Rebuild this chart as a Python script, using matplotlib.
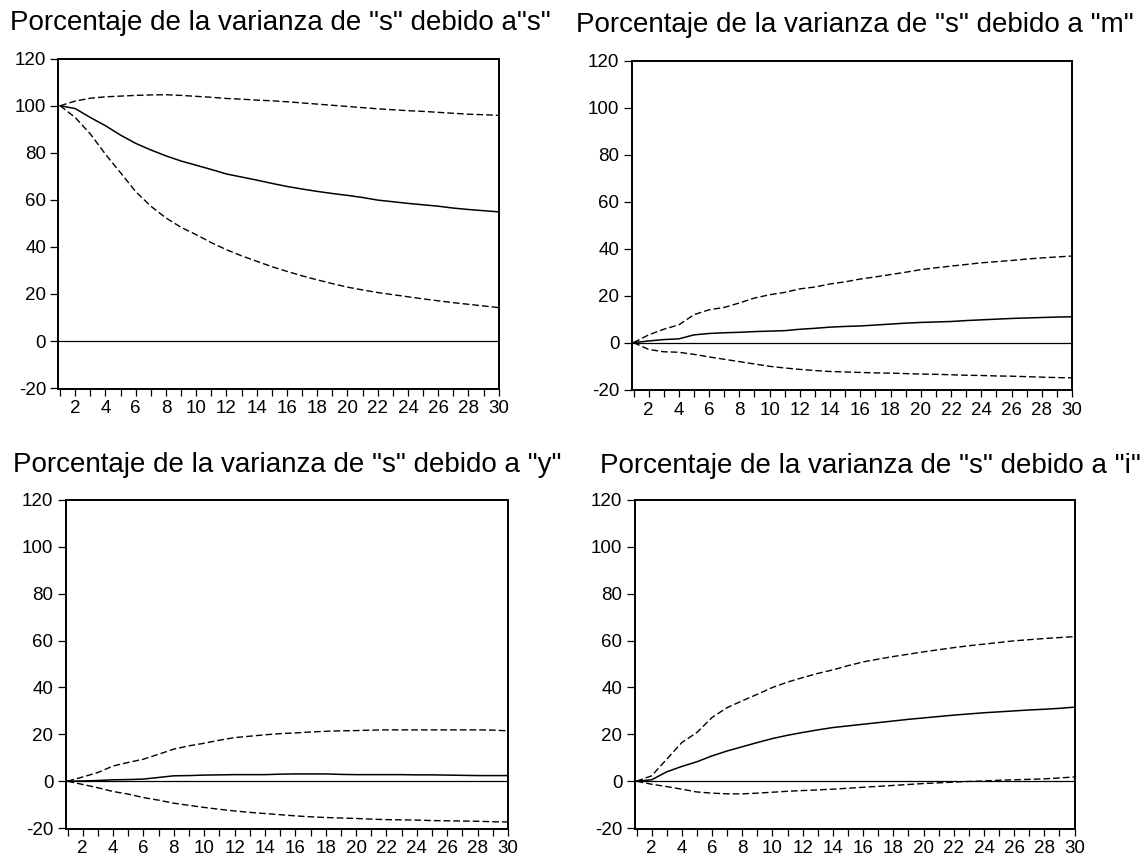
import matplotlib
matplotlib.use("Agg")
import matplotlib.pyplot as plt
import numpy as np

plt.rcParams['font.family'] = ['Liberation Sans', 'DejaVu Sans']

periods = list(range(1, 31))

titles = [
    'Porcentaje de la varianza de "s" debido a"s"',
    'Porcentaje de la varianza de "s" debido a "m"',
    'Porcentaje de la varianza de "s" debido a "y"',
    'Porcentaje de la varianza de "s" debido a "i"',
]

s_mid = [100, 98.8, 95, 91.5, 87.5, 84, 81.2, 78.7, 76.5, 74.7, 72.9, 71, 69.7, 68.4, 67,
         65.7, 64.6, 63.6, 62.7, 61.9, 61, 59.9, 59.2, 58.5, 57.9, 57.3, 56.5, 55.9, 55.4, 54.9]
s_up = [100, 102, 103.2, 103.8, 104.1, 104.4, 104.6, 104.7, 104.4, 104, 103.6, 103.1, 102.8, 102.4, 102.1,
        101.7, 101.2, 100.7, 100.2, 99.7, 99.2, 98.7, 98.3, 97.9, 97.6, 97.2, 96.8, 96.4, 96.2, 95.9]
s_lo = [100, 95, 88, 79.4, 71.5, 63.5, 57.3, 52.3, 48.3, 45.2, 41.8, 38.8, 36.2, 33.9, 31.6,
        29.6, 27.7, 26, 24.4, 22.9, 21.7, 20.6, 19.7, 18.8, 17.9, 17.1, 16.3, 15.6, 14.9, 14.2]

m_mid = [0, 0.7, 1.3, 1.6, 3.3, 3.9, 4.2, 4.4, 4.7, 4.9, 5.1, 5.7, 6.1, 6.6, 6.9,
         7.1, 7.5, 7.9, 8.3, 8.6, 8.8, 9, 9.4, 9.7, 10, 10.3, 10.5, 10.7, 10.9, 11]
m_up = [0, 3.3, 5.7, 7.6, 11.9, 14, 15, 16.9, 19, 20.4, 21.4, 22.9, 23.7, 25, 25.9,
        27.1, 28, 29, 30, 31.1, 31.9, 32.6, 33.3, 34, 34.5, 35, 35.6, 36.1, 36.5, 36.9]
m_lo = [0, -2.9, -3.9, -4.1, -5, -6.1, -7.1, -8.1, -9.1, -10.1, -10.8, -11.4, -11.9, -12.3, -12.5,
        -12.7, -12.9, -13, -13.2, -13.4, -13.5, -13.7, -13.9, -14, -14.2, -14.3, -14.5, -14.7, -14.9, -15]

y_mid = [0, 0.1, 0.3, 0.6, 0.7, 0.9, 1.6, 2.3, 2.4, 2.6, 2.7, 2.8, 2.8, 2.8, 3.0,
         3.1, 3.1, 3.1, 2.9, 2.8, 2.8, 2.8, 2.8, 2.7, 2.7, 2.6, 2.5, 2.4, 2.4, 2.4]
y_up = [0, 1.8, 3.7, 6.5, 8, 9.4, 11.5, 13.7, 15.1, 16.2, 17.5, 18.6, 19.2, 19.8, 20.3,
        20.6, 21, 21.3, 21.5, 21.6, 21.8, 21.9, 21.9, 21.9, 21.9, 21.9, 21.9, 21.9, 21.8, 21.5]
y_lo = [0, -1.4, -2.8, -4.4, -5.5, -7, -8.1, -9.4, -10.3, -11.2, -12, -12.7, -13.3, -13.8, -14.3,
        -14.8, -15.2, -15.5, -15.7, -15.9, -16.2, -16.4, -16.5, -16.6, -16.8, -16.9, -17, -17.1, -17.3, -17.4]

i_mid = [0, 0.6, 4, 6.3, 8.3, 10.8, 12.9, 14.7, 16.5, 18.2, 19.6, 20.8, 21.9, 22.9, 23.6,
         24.3, 25, 25.7, 26.4, 27, 27.6, 28.2, 28.7, 29.2, 29.6, 30, 30.4, 30.7, 31.1, 31.6]
i_up = [0, 2.3, 9.4, 16.5, 20.8, 27.2, 31.4, 34.3, 37.1, 40, 42.3, 44.2, 46, 47.5, 49.3,
        50.9, 52.1, 53.2, 54.2, 55.2, 56.1, 57, 57.8, 58.5, 59.2, 59.9, 60.4, 60.9, 61.3, 61.7]
i_lo = [0, -1.3, -2.3, -3.4, -4.6, -5.1, -5.4, -5.4, -5.1, -4.7, -4.3, -4, -3.7, -3.4, -3,
        -2.6, -2.2, -1.8, -1.4, -1, -0.7, -0.4, -0.1, 0.1, 0.4, 0.6, 0.8, 1, 1.4, 1.8]

y_ticks = [-20, 0, 20, 40, 60, 80, 100, 120]

panels = [(s_mid, s_up, s_lo), (m_mid, m_up, m_lo), (y_mid, y_up, y_lo), (i_mid, i_up, i_lo)]

W, H = 1144, 858
fig = plt.figure(figsize=(W / 100, H / 100), dpi=100)

# axes boxes in pixels: left, right, top, bottom
boxes = [(58.3, 498.7, 58.7, 389), (631.7, 1072, 61, 390.5),
         (65.7, 508, 500, 829), (634.7, 1074.6, 500, 829)]
# title positions: left x, baseline y (pixels)
title_pos = [(10, 29.5), (576, 32), (13, 472), (600, 473)]

for k, ((mid, up, lo), (l, r, t, b)) in enumerate(zip(panels, boxes)):
    ax = fig.add_axes([l / W, 1 - b / H, (r - l) / W, (b - t) / H])
    ax.axhline(0, color='black', lw=0.9, zorder=1)
    ax.plot(periods, mid, color='black', lw=1.1, solid_joinstyle='round', zorder=3)
    ax.plot(periods, up, color='black', lw=1.0, dashes=(4.8, 2.2), zorder=3)
    ax.plot(periods, lo, color='black', lw=1.0, dashes=(4.8, 2.2), zorder=3)
    ax.set_xlim(0.88, 30)
    ax.set_ylim(-20.4, 120)
    ax.set_yticks(y_ticks)
    ax.set_yticklabels([str(v) for v in y_ticks])
    ax.set_xticks(periods)
    ax.set_xticklabels([str(p) if p % 2 == 0 else '' for p in periods])
    ax.tick_params(axis='y', direction='out', length=5.8, width=0.9, pad=3.0,
                   labelsize=13.5, colors='black')
    ax.tick_params(axis='x', direction='out', length=5.0, width=0.9, pad=3.0,
                   labelsize=13.5, colors='black')
    for sp in ax.spines.values():
        sp.set_linewidth(1.4)
        sp.set_color('black')
    tx, ty = title_pos[k]
    fig.text(tx / W, 1 - ty / H, titles[k], fontsize=20, ha='left', va='baseline',
             color='black')

fig.savefig('out.png', dpi=100, facecolor='white')
